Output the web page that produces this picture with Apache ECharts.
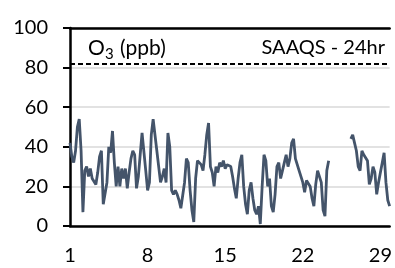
<!DOCTYPE html>
<html>
<head>
<meta charset="utf-8">
<script src="https://cdn.jsdelivr.net/npm/echarts@6/dist/echarts.min.js"></script>
<style>
  html, body { margin: 0; padding: 0; background: #fff; }
  #chart { width: 395px; height: 268px; }
</style>
</head>
<body>
<div id="chart"></div>
<script>
// hourly O3 every 4 hours (6 per day), null = no data
var stepsPerDay = 6;
var o3 = [
  42, 35, 32, 38, 50, 54,
  38, 7, 28, 30, 25, 29,
  24, 23, 21, 27, 35, 38,
  11, 12, 22, 40, 37, 48,
  32, 20, 30, 20, 29, 24,
  29, 19, 27, 34, 38, 36,
  19, 25, 36, 47, 46, 28,
  18, 22, 46, 54, 53, 38,
  30, 22, 25, 29, 22, 47,
  40, 18, 16, 18, 16, 13,
  9, 10, 22, 34, 32, 18,
  8, 2, 24, 33, 34, 31,
  28, 36, 46, 52, 30, 27,
  20, 30, 27, 32, 30, 33,
  29, 31, 30, 30, 25, 19,
  14, 24, 32, 36, 20, 11,
  6, 18, 22, 14, 8, 6,
  10, 1, 20, 36, 33, 20,
  24, 10, 7, 16, 30, 32,
  24, 28, 32, 36, 30, 34,
  42, 44, 34, 31, 28, 27,
  22, 17, 23, 24, 20, 14,
  10, 21, 28, 28, 22, 8,
  5, 28, 33, null, null, null,
  null, null, null, null, null, null,
  null, null, 44, 46, 42, 38,
  30, 28, 38, 36, 36, 33,
  21, 24, 30, 27, 16, 22,
  27, 32, 37, 22, 13, 10
];
var dayTicks = [1, 8, 15, 22, 29];
var yTicks = [0, 20, 40, 60, 80, 100];
var standard = 82;

var font = 'Lato, "Open Sans", sans-serif';
var lastStep = o3.length - 1;

var chart = echarts.init(document.getElementById('chart'));
chart.setOption({
  animation: false,
  grid: { left: 70, right: 0, top: 28, bottom: 42 },
  xAxis: [
    {
      type: 'value',
      min: 0,
      max: lastStep,
      interval: 7 * stepsPerDay,
      axisLine: { show: true, onZero: false, lineStyle: { color: '#000', width: 2.5 } },
      axisTick: { show: false },
      splitLine: { show: false },
      axisLabel: {
        margin: 20,
        fontSize: 20,
        fontFamily: font,
        color: '#000',
        formatter: function (v) {
          var d = v / stepsPerDay + 1;
          return dayTicks.indexOf(d) >= 0 ? String(d) : '';
        }
      }
    },
    {
      type: 'value',
      position: 'top',
      min: 0,
      max: lastStep,
      axisLine: { show: true, onZero: false, lineStyle: { color: '#000', width: 2.5 } },
      axisTick: { show: false },
      axisLabel: { show: false },
      splitLine: { show: false }
    }
  ],
  yAxis: {
    type: 'value',
    min: yTicks[0],
    max: yTicks[yTicks.length - 1],
    interval: 20,
    axisLine: { show: true, lineStyle: { color: '#000', width: 2.5 } },
    axisTick: { show: true, length: 7, lineStyle: { color: '#000', width: 2 } },
    splitLine: { show: true, lineStyle: { color: '#D9D9D9', width: 1.5 } },
    axisLabel: { margin: 22, fontSize: 20, fontFamily: font, color: '#000' }
  },
  series: [
    {
      type: 'line',
      data: o3.map(function (v, i) { return [i, v]; }),
      showSymbol: false,
      connectNulls: false,
      lineStyle: { color: '#44546A', width: 2.8 },
      itemStyle: { color: '#44546A' },
      markLine: {
        silent: true,
        symbol: 'none',
        label: { show: false },
        lineStyle: { color: '#000', type: [5, 3], width: 2 },
        data: [{ yAxis: standard }]
      }
    }
  ],
  graphic: [
    { type: 'text', x: 88, y: 48, style: { text: 'O', font: '21px ' + font, fill: '#000', verticalAlign: 'middle' } },
    { type: 'text', x: 105, y: 54, style: { text: '3', font: '15px ' + font, fill: '#000', verticalAlign: 'middle' } },
    { type: 'text', x: 120, y: 48, style: { text: '(ppb)', font: '21px ' + font, fill: '#000', verticalAlign: 'middle' } },
    { type: 'text', x: 385, y: 48, style: { text: 'SAAQS - 24hr', font: '20px ' + font, fill: '#000', align: 'right', verticalAlign: 'middle' } }
  ]
});
</script>
</body>
</html>
